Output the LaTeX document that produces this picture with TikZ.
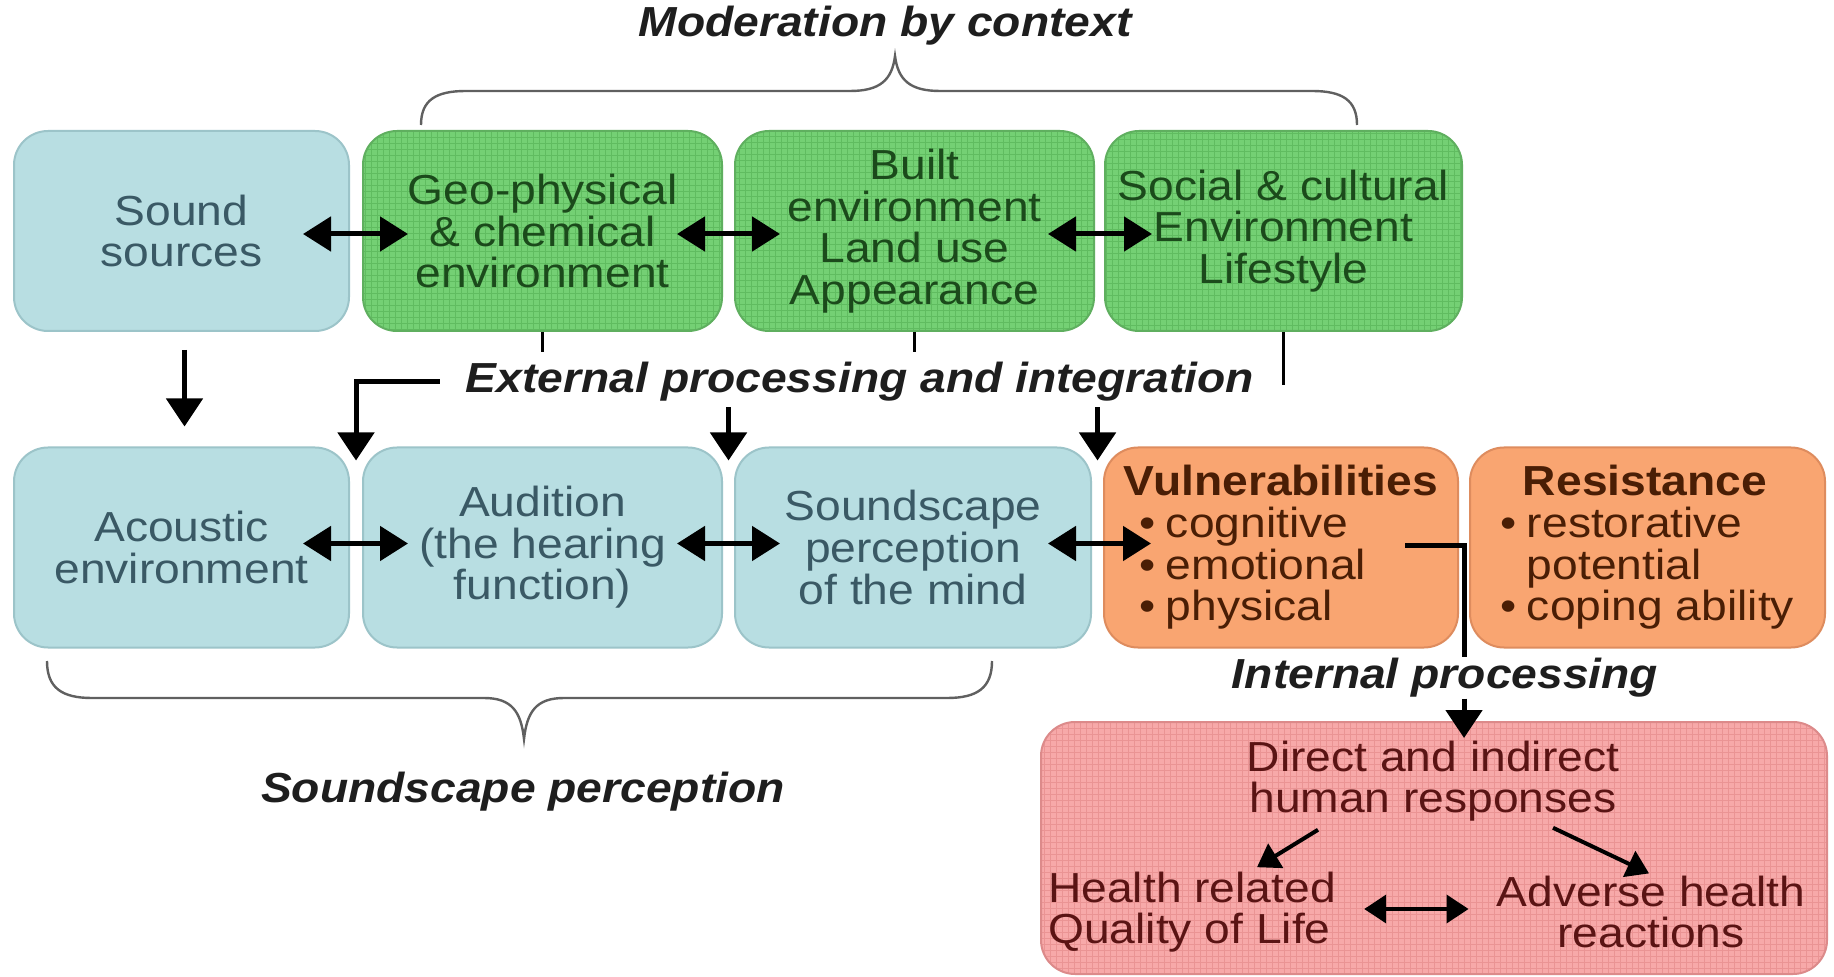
\documentclass[tikz,border=0pt]{standalone}
\usepackage{fontspec}
\setmainfont{Liberation Sans}[FakeStretch=1.1]
\usetikzlibrary{arrows.meta,calc}
\definecolor{bluefill}{HTML}{B8DEE2}
\definecolor{blueedge}{HTML}{9CC4C9}
\definecolor{bluetext}{HTML}{3A5965}
\definecolor{grnfill}{HTML}{74D074}
\definecolor{grnedge}{HTML}{5FAF5F}
\definecolor{grngrid}{HTML}{60BC60}
\definecolor{grntext}{HTML}{1B4A1B}
\definecolor{orgfill}{HTML}{F9A571}
\definecolor{orgedge}{HTML}{DE8C5E}
\definecolor{orgtext}{HTML}{4A1E05}
\definecolor{pnkfill}{HTML}{F7A9A9}
\definecolor{pnkedge}{HTML}{DC8A8A}
\definecolor{pnkgrid}{HTML}{EA9494}
\definecolor{pnktext}{HTML}{5A1414}
\definecolor{labtext}{HTML}{1E1E1E}
\definecolor{bracecol}{HTML}{606060}
\newcommand\bl{\makebox[13pt][l]{•}}
\tikzset{
  base/.style={rounded corners=17pt, line width=1pt, align=center, inner sep=0pt,
    font=\fontsize{21}{20.8}\selectfont},
  blubox/.style={base, fill=bluefill, draw=blueedge, text=bluetext, minimum height=100pt},
  grnbox/.style={base, fill=grnfill, draw=grnedge, text=grntext, minimum height=100pt,
    path picture={\draw[grngrid, line width=0.3pt, step=3pt]
      (path picture bounding box.south west) grid (path picture bounding box.north east);}},
  orgbox/.style={base, fill=orgfill, draw=orgedge, text=orgtext, minimum height=100pt},
  pnkbox/.style={base, fill=pnkfill, draw=pnkedge,
    path picture={\draw[pnkgrid, line width=0.3pt, step=3pt]
      (path picture bounding box.south west) grid (path picture bounding box.north east);}},
  intext/.style={inner sep=0pt, text=pnktext, font=\fontsize{21}{20.8}\selectfont},
  lab/.style={inner sep=0pt, text=labtext, font=\fontsize{21}{21}\selectfont\bfseries\itshape},
  arr/.style={-{Triangle[length=14pt,width=18pt]}, line width=2.5pt},
  dbl/.style={{Triangle[length=14pt,width=17pt]}-{Triangle[length=14pt,width=17pt]}, line width=2.5pt},
  sarr/.style={-{Triangle[length=11pt,width=14pt]}, line width=2pt, draw=black},
  sdbl/.style={{Triangle[length=11pt,width=14pt]}-{Triangle[length=11pt,width=14pt]}, line width=2pt},
  tick/.style={line width=1.6pt},
  brace/.style={draw=bracecol, line width=1.2pt},
}
\begin{document}
\begin{tikzpicture}[x=0.5pt,y=-0.5pt]
\useasboundingbox (0,0) rectangle (1834,977);
\fill[white] (0,0) rectangle (1834,977);

% top row
\node[blubox, minimum width=167.5pt] (sound) at (181.5,231) {Sound\\sources};
\node[grnbox, minimum width=179.5pt] (geo) at (542.5,231) {Geo-physical\\\& chemical\\environment};
\node[grnbox, minimum width=179.5pt] (built) at (914.5,231) {Built\\environment\\Land use\\Appearance};
\node[grnbox, minimum width=178.5pt] (social) at (1283.5,231) {Social \& cultural\\Environment\\Lifestyle};

% middle row
\node[blubox, minimum width=167.5pt] (acoustic) at (181.5,547.5) {Acoustic\\environment};
\node[blubox, minimum width=179.5pt] (audition) at (542.5,547.5) {Audition\\(the hearing\\function)};
\node[blubox, minimum width=178pt] (soundscape) at (913,547.5) {Soundscape\\perception\\of the mind};
\node[orgbox, minimum width=177pt, align=left] (vuln) at (1281,547.5)
  {{\bfseries Vulnerabilities}\\\hspace*{8pt}\bl cognitive\\\hspace*{8pt}\bl emotional\\\hspace*{8pt}\bl physical};
\node[orgbox, minimum width=177.5pt, align=left] (resist) at (1647.5,547.5)
  {\hspace*{11pt}{\bfseries Resistance}\\\bl restorative\\\hspace*{13pt}potential\\\bl coping ability};

% bottom box
\node[pnkbox, minimum width=393pt, minimum height=126pt] (resp) at (1434,848) {};
\node[intext, align=center] (dir) at (1433,781) {Direct and indirect\\human responses};
\node[intext, align=left] (hrq) at (1192,912) {Health related\\Quality of Life};
\node[intext, align=center] (adv) at (1651,912) {Adverse health\\reactions};

% labels
\node[lab] (modctx) at (885,26) {Moderation by context};
\node[lab] (ext) at (860,382) {External processing and integration};
\node[lab] (intp) at (1445,678) {Internal processing};
\node[lab] (sperc) at (523,792) {Soundscape perception};

% braces
\draw[brace] (421,125) .. controls (421,100) and (436,91) .. (466,91) -- (850,91)
  .. controls (880,91) and (892,80) .. (895,56) .. controls (898,80) and (910,91) .. (940,91)
  -- (1312,91) .. controls (1342,91) and (1357,100) .. (1357,125);
\draw[brace] (47,661) .. controls (47,688) and (62,698) .. (92,698) -- (484,698)
  .. controls (512,698) and (521,712) .. (524,739) .. controls (527,712) and (536,698) .. (564,698)
  -- (947,698) .. controls (977,698) and (992,688) .. (992,661);

% horizontal double arrows, top row
\draw[dbl] ($(sound.east)+(-47,3)$) -- ($(geo.west)+(46,3)$);
\draw[dbl] ($(geo.east)+(-46,3)$) -- ($(built.west)+(46,3)$);
\draw[dbl] ($(built.east)+(-47,3)$) -- ($(social.west)+(48,3)$);
% horizontal double arrows, middle row
\draw[dbl] ($(acoustic.east)+(-47,-4)$) -- ($(audition.west)+(46,-4)$);
\draw[dbl] ($(audition.east)+(-46,-4)$) -- ($(soundscape.west)+(46,-4)$);
\draw[dbl] ($(soundscape.east)+(-44,-4)$) -- ($(vuln.west)+(48,-4)$);

% sound sources to acoustic environment
\draw[arr] ($(sound.south)+(3,18)$) -- ($(acoustic.north)+(3,-20)$);

% ticks from context boxes
\draw[tick] (geo.south) -- ++(0,20);
\draw[tick] (built.south) -- ++(0,20);
\draw[tick] (social.south) -- ++(0,53);

% external processing arrows
\coordinate (g1) at ($(acoustic.north east)!.5!(audition.north west)$);
\coordinate (g2) at ($(audition.north east)!.5!(soundscape.north west)$);
\coordinate (g3) at ($(soundscape.north east)!.5!(vuln.north west)$);
\draw[arr] ($(ext.west)+(-26,0)$) -| ($(g1)+(0,14)$);
\draw[arr] ($(g2)+(0,-39)$) -- ($(g2)+(0,14)$);
\draw[arr] ($(g3)+(0,-39)$) -- ($(g3)+(0,14)$);

% internal processing
\coordinate (g4) at ($(vuln.south east)!.5!(resist.south west)$);
\draw[line width=2.5pt] ($(vuln.east)+(-54,-2)$) -| ($(g4)+(0,8)$);
\draw[arr] ($(g4)+(0,50)$) -- ($(g4 |- resp.north)+(0,17)$);

% inside response box
\draw[sarr] ($(dir.south)+(-115,8)$) -- ($(hrq.north)+(65,-4)$);
\draw[sarr] ($(dir.south)+(120,6)$) -- ($(adv.north)+(-2,-2)$);
\draw[sdbl] ($(hrq.east)+(28,-3)$) -- ($(adv.west)+(-28,-3)$);
\end{tikzpicture}
\end{document}
